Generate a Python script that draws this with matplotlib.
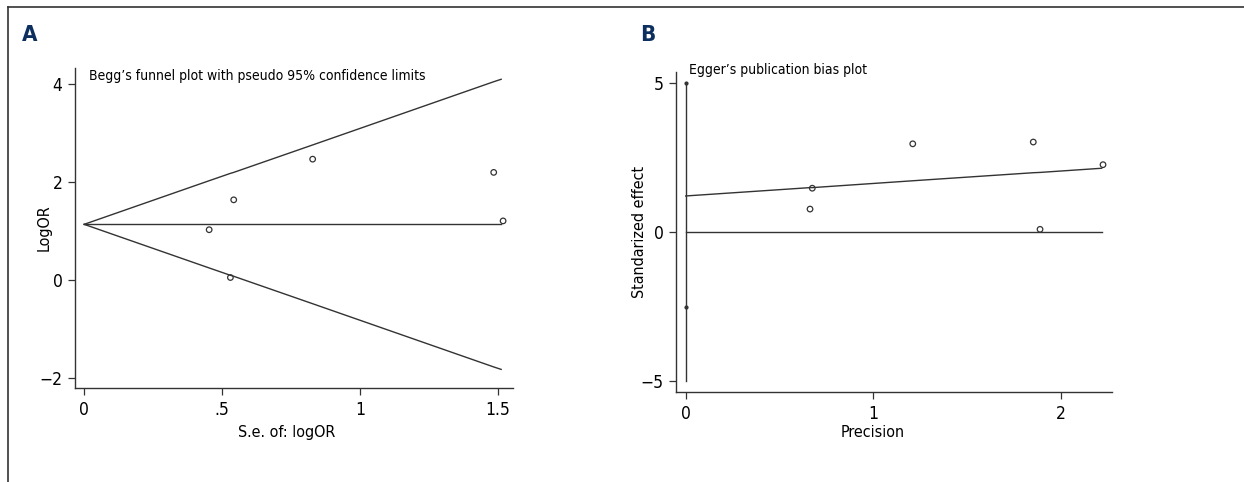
import matplotlib
matplotlib.use("Agg")
import matplotlib.pyplot as plt
from matplotlib.lines import Line2D

plt.rcParams['font.family'] = ['DejaVu Sans']
plt.rcParams['font.stretch'] = 'condensed'

# panel A: Begg's funnel plot
se = [0.453, 0.542, 0.530, 0.828, 1.484, 1.518]
logor = [1.03, 1.64, 0.055, 2.47, 2.20, 1.21]
limit_se = [0, 0.453, 0.530, 0.542, 0.828, 1.484, 1.511]
pooled = [1.14, 1.14, 1.14, 1.14, 1.14, 1.14, 1.14]
upper = [1.14, 2.03, 2.18, 2.20, 2.76, 4.05, 4.10]
lower = [1.14, 0.25, 0.10, 0.08, -0.48, -1.77, -1.82]

# panel B: Egger's plot
precision = [0.675, 0.663, 1.211, 1.854, 1.890, 2.226]
std_effect = [1.48, 0.78, 2.97, 3.03, 0.10, 2.27]
fit_x = [0, 0.663, 0.675, 1.211, 1.854, 1.890, 2.219]
fit_y = [1.22, 1.50, 1.50, 1.73, 2.00, 2.01, 2.15]
ci_x = [0, 0]
ci_y = [-5, 5]
ci_marks = [5, -2.52]

lc = '#333333'
fig = plt.figure(figsize=(12.44, 4.82), dpi=100)


def style(ax):
    for s in ['top', 'right']:
        ax.spines[s].set_visible(False)
    for s in ['left', 'bottom']:
        ax.spines[s].set_color(lc)
        ax.spines[s].set_linewidth(1.0)
    ax.tick_params(direction='out', length=5, width=0.9, color=lc,
                   labelsize=12.5, pad=4)


ax1 = fig.add_axes([0.0603, 0.1950, 0.3521, 0.6639])
style(ax1)
ax1.plot(limit_se, upper, color=lc, lw=1.0)
ax1.plot(limit_se, lower, color=lc, lw=1.0)
ax1.plot(limit_se, pooled, color=lc, lw=1.0)
ax1.scatter(se, logor, s=16, facecolors='none', edgecolors=lc, linewidths=0.9, zorder=3)
ax1.set_xlim(-0.033, 1.554)
ax1.set_ylim(-2.2, 4.33)
ax1.set_xticks([0, 0.5, 1, 1.5])
ax1.set_xticklabels(['0', '.5', '1', '1.5'])
ax1.set_yticks([-2, 0, 2, 4])
ax1.set_yticklabels(['\u22122', '0', '2', '4'])
ax1.set_xlabel('S.e. of: logOR', fontsize=11.5)
ax1.xaxis.set_label_coords(0.484, -0.116)
ax1.set_ylabel('LogOR', fontsize=11.5, labelpad=-9)
ax1.text(0.016, 4.17, 'Begg\u2019s funnel plot with pseudo 95% confidence limits',
         fontsize=10, va='center', ha='left')

ax2 = fig.add_axes([0.5434, 0.1867, 0.3505, 0.6645])
style(ax2)
ax2.plot(ci_x, ci_y, color=lc, lw=1.0)
ax2.scatter(ci_x, ci_marks, s=4, color=lc, zorder=3)
ax2.plot([0, 2.219], [0, 0], color=lc, lw=1.0)
ax2.plot(fit_x, fit_y, color=lc, lw=1.0)
ax2.scatter(precision, std_effect, s=16, facecolors='none', edgecolors=lc, linewidths=0.9, zorder=3)
ax2.set_xlim(-0.052, 2.274)
ax2.set_ylim(-5.36, 5.39)
ax2.set_xticks([0, 1, 2])
ax2.set_yticks([-5, 0, 5])
ax2.set_yticklabels(['\u22125', '0', '5'])
ax2.set_xlabel('Precision', fontsize=11.5)
ax2.xaxis.set_label_coords(0.452, -0.103)
ax2.set_ylabel('Standarized effect', fontsize=11.5, labelpad=-4.5)
ax2.text(0.02, 5.45, 'Egger\u2019s publication bias plot', fontsize=10, va='center', ha='left')

# panel letters and frame
fig.text(0.018, 0.928, 'A', fontsize=16, fontweight='bold', color='#0d2f5e', va='center')
fig.text(0.5145, 0.928, 'B', fontsize=16, fontweight='bold', color='#0d2f5e', va='center')
fig.add_artist(Line2D([0.0065, 1.0], [0.985, 0.985], transform=fig.transFigure, color='#333333', lw=1.2))
fig.add_artist(Line2D([0.0065, 0.0065], [0.0, 0.985], transform=fig.transFigure, color='#333333', lw=1.2))

fig.savefig('out.png', dpi=100)
